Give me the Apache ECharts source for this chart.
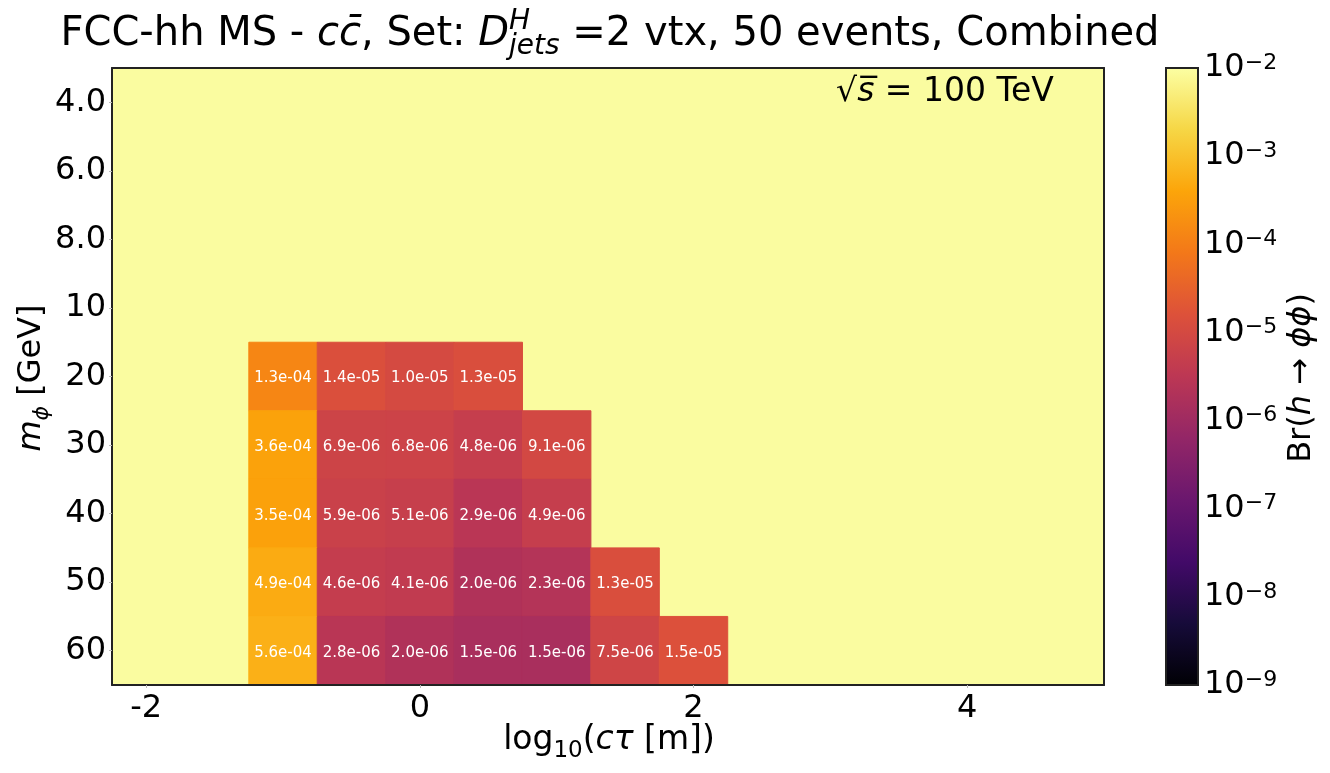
<!DOCTYPE html>
<html>
<head>
<meta charset="utf-8">
<script src="https://cdn.jsdelivr.net/npm/echarts@6/dist/echarts.min.js"></script>
<style>
html, body { margin: 0; padding: 0; background: #fff; }
#main { width: 1330px; height: 773px; }
</style>
</head>
<body>
<div id="main"></div>
<script>
// mass rows (top to bottom) and tick positions
var massLabels = ['4.0', '6.0', '8.0', '10', '20', '30', '40', '50', '60'];
var xTicks = [-2, 0, 2, 4];
var ctauCenters = [-1, -0.5, 0, 0.5, 1, 1.5, 2];
// Br(h->phiphi) limits, one array per mass row, starting at log10(ctau) = -1
var br20 = [1.3e-4, 1.4e-5, 1.0e-5, 1.3e-5];
var br30 = [3.6e-4, 6.9e-6, 6.8e-6, 4.8e-6, 9.1e-6];
var br40 = [3.5e-4, 5.9e-6, 5.1e-6, 2.9e-6, 4.9e-6];
var br50 = [4.9e-4, 4.6e-6, 4.1e-6, 2.0e-6, 2.3e-6, 1.3e-5];
var br60 = [5.6e-4, 2.8e-6, 2.0e-6, 1.5e-6, 1.5e-6, 7.5e-6, 1.5e-5];
// colorbar decades (log10)
var cbTicks = [-9, -8, -7, -6, -5, -4, -3, -2];
// inferno
var inferno = ['#000004', '#160b39', '#420a68', '#6a176e', '#932667', '#bc3754',
               '#dd513a', '#f37819', '#fca50a', '#f6d746', '#fcffa4'];

var FONT = 'DejaVu Sans';

var rows = { '20': br20, '30': br30, '40': br40, '50': br50, '60': br60 };
var cells = [];
massLabels.forEach(function (m, r) {
	var vals = rows[m];
	if (!vals) return;
	for (var i = 0; i < vals.length; i++) {
		cells.push([ctauCenters[i], r, Math.log10(vals[i]), vals[i]]);
	}
});

// 1.3e-4 -> 1.3e-04
function fmt(v) {
	var s = v.toExponential(1);
	return s.replace(/e([+-])(\d)$/, function (a, sg, d) { return 'e' + sg + '0' + d; });
}

// lay out a line of mixed text pieces (sub/superscripts) as a zrender group
// x,y = centre of the line on its baseline
var measureCtx = document.createElement('canvas').getContext('2d');
function mathLabel(x, y, pieces, rotation) {
	var children = [];
	var cx = 0, total = 0, widths = [];
	pieces.forEach(function (p) {
		measureCtx.font = (p.it ? 'italic ' : '') + p.size + 'px "' + FONT + '"';
		widths.push(measureCtx.measureText(p.t).width);
	});
	var pending = 0;
	pieces.forEach(function (p, i) {
		if (p.noAdv) { pending = Math.max(pending, widths[i]); return; }
		total += Math.max(widths[i], pending); pending = 0;
	});
	cx = -total / 2; pending = 0;
	pieces.forEach(function (p, i) {
		children.push({
			type: 'text',
			x: cx,
			y: (p.dy || 0) - 0.346 * p.size,
			style: {
				text: p.t,
				fontSize: p.size,
				fontFamily: FONT,
				fontStyle: p.it ? 'italic' : 'normal',
				fill: '#000',
				align: 'left',
				verticalAlign: 'middle'
			}
		});
		// noAdv: next piece starts at the same x (stacked super/subscript)
		if (p.noAdv) { pending = Math.max(pending, widths[i]); return; }
		cx += Math.max(widths[i], pending); pending = 0;
	});
	return { type: 'group', x: x, y: y, rotation: rotation || 0, children: children, z: 100 };
}

var chart = echarts.init(document.getElementById('main'));

var option = {
	animation: false,
	backgroundColor: '#fff',
	grid: [{
		left: 112, top: 68, width: 992, height: 617,
		show: true, backgroundColor: '#fafca0', borderWidth: 0
	}, {
		left: 1166, top: 68, width: 32, height: 617
	}],
	visualMap: {
		type: 'continuous',
		show: false,
		min: cbTicks[0],
		max: cbTicks[cbTicks.length - 1],
		dimension: 2,
		seriesIndex: 0,
		inRange: { color: inferno }
	},
	xAxis: [{
		gridIndex: 0, type: 'value', min: -2.25, max: 5, z: 10,
		axisLine: { show: true, onZero: false, lineStyle: { color: '#222', width: 2 } },
		axisTick: { show: true, customValues: xTicks, length: 3, lineStyle: { color: '#bbb' } },
		axisLabel: { customValues: xTicks, fontSize: 32, fontFamily: FONT, color: '#000', margin: 8 },
		splitLine: { show: false }
	}, {
		gridIndex: 0, type: 'value', position: 'top', min: -2.25, max: 5, z: 10,
		axisLine: { show: true, onZero: false, lineStyle: { color: '#222', width: 2 } },
		axisTick: { show: false }, axisLabel: { show: false }, splitLine: { show: false }
	}, {
		gridIndex: 1, type: 'value', min: 0, max: 1, show: false
	}],
	yAxis: [{
		gridIndex: 0, type: 'category', data: massLabels, inverse: true, z: 10,
		axisLine: { show: true, onZero: false, lineStyle: { color: '#222', width: 2 } },
		axisTick: { show: true, alignWithLabel: true, length: 3, lineStyle: { color: '#bbb' } },
		axisLabel: { fontSize: 32, fontFamily: FONT, color: '#000', margin: 6, padding: [7, 0, 0, 0] },
		splitLine: { show: false }
	}, {
		gridIndex: 0, type: 'category', data: massLabels, inverse: true, position: 'right', z: 10,
		axisLine: { show: true, onZero: false, lineStyle: { color: '#222', width: 2 } },
		axisTick: { show: false }, axisLabel: { show: false }, splitLine: { show: false }
	}, {
		gridIndex: 1, type: 'value', position: 'right',
		min: cbTicks[0], max: cbTicks[cbTicks.length - 1], interval: 1,
		axisLine: { show: false },
		axisTick: { show: true, length: 3, lineStyle: { color: '#bbb' } },
		splitLine: { show: false },
		axisLabel: {
			margin: 6,
			formatter: function (v) { return '{b|10}{e|\u2212' + (-v) + '}'; },
			rich: {
				b: { fontSize: 32, fontFamily: FONT, color: '#000' },
				e: { fontSize: 22, fontFamily: FONT, color: '#000', verticalAlign: 'top' }
			}
		}
	}],
	series: [{
		type: 'custom',
		xAxisIndex: 0, yAxisIndex: 0,
		data: cells,
		encode: { x: 0, y: 1 },
		renderItem: function (params, api) {
			var c = api.coord([api.value(0), api.value(1)]);
			var s = api.size([0.5, 1], [api.value(0), api.value(1)]);
			var col = api.visual('color');
			return {
				type: 'rect',
				shape: { x: c[0] - s[0] / 2, y: c[1] - s[1] / 2, width: s[0], height: s[1] },
				style: { fill: col, stroke: col, lineWidth: 1 },
				textContent: {
					style: { text: fmt(api.value(3)), fill: '#fff', fontSize: 15, fontFamily: FONT }
				},
				textConfig: { position: 'inside', offset: [0, 2] }
			};
		}
	}, {
		type: 'custom',
		xAxisIndex: 2, yAxisIndex: 2,
		data: [[0, cbTicks[0], cbTicks[cbTicks.length - 1]]],
		renderItem: function (params, api) {
			var p0 = api.coord([0, api.value(2)]);
			var p1 = api.coord([1, api.value(1)]);
			var stops = inferno.map(function (c, i) { return { offset: i / (inferno.length - 1), color: c }; });
			return {
				type: 'rect',
				shape: { x: p0[0], y: p0[1], width: p1[0] - p0[0], height: p1[1] - p0[1] },
				style: {
					fill: new echarts.graphic.LinearGradient(0, 1, 0, 0, stops),
					stroke: '#222', lineWidth: 2
				}
			};
		}
	}],
	graphic: [
		mathLabel(610, 48, [
			{ t: 'FCC-hh MS - ', size: 40 },
			{ t: 'cc\u0304', size: 40, it: true },
			{ t: ', Set: ', size: 40 },
			{ t: 'D', size: 40, it: true },
			{ t: 'H', size: 28, it: true, dy: -17, noAdv: true },
			{ t: 'jets', size: 28, it: true, dy: 8 },
			{ t: ' =2 vtx, 50 events, Combined', size: 40 }
		]),
		mathLabel(945, 104, [
			{ t: '\u221A', size: 33 },
			{ t: 's\u0305', size: 33, it: true },
			{ t: ' = ', size: 33 },
			{ t: '100 TeV', size: 33 }
		]),
		mathLabel(609, 752, [
			{ t: 'log', size: 33 },
			{ t: '10', size: 23, dy: 7 },
			{ t: '(', size: 33 },
			{ t: 'c\u03C4', size: 33, it: true },
			{ t: ' [m])', size: 33 }
		]),
		mathLabel(43, 378, [
			{ t: 'm', size: 32, it: true },
			{ t: '\u03D5', size: 22, it: true, dy: 7 },
			{ t: ' [GeV]', size: 32 }
		], Math.PI / 2),
		mathLabel(1313, 378, [
			{ t: 'Br(', size: 32 },
			{ t: 'h', size: 32, it: true },
			{ t: ' \u2192 ', size: 32 },
			{ t: '\u03D5\u03D5', size: 32, it: true },
			{ t: ')', size: 32 }
		], Math.PI / 2)
	]
};

chart.setOption(option);
</script>
</body>
</html>
